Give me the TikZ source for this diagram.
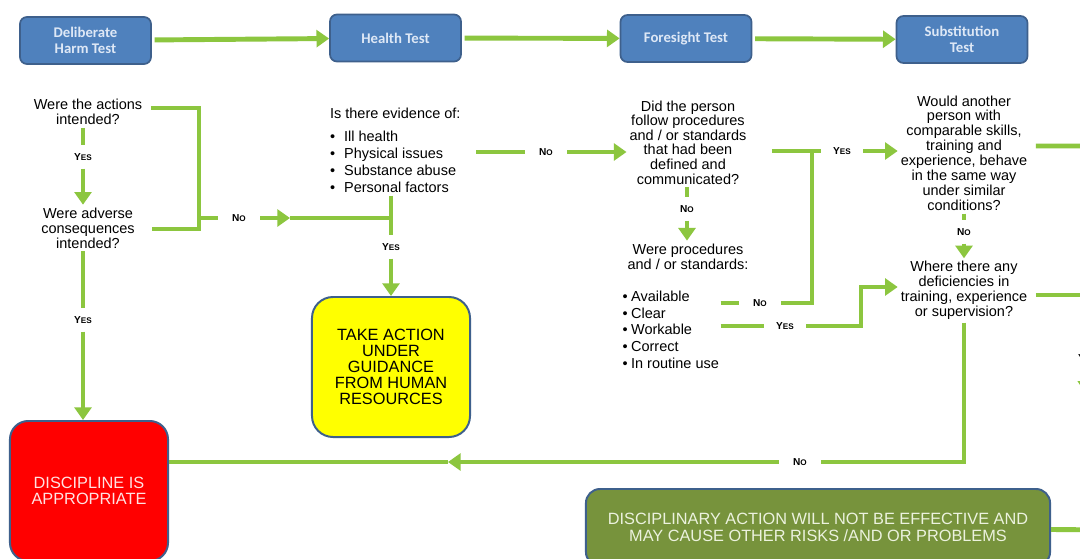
\documentclass[tikz,border=0pt]{standalone}
\usepackage{fontspec}
\setmainfont{Liberation Sans}
\newfontfamily\testfam{Carlito}
\usepackage{tikz}
\usetikzlibrary{arrows.meta, positioning, calc}

\definecolor{flowgreen}{RGB}{140,198,63}
\definecolor{testblue}{RGB}{79,129,189}
\definecolor{testtext}{RGB}{222,232,246}
\definecolor{boxedge}{RGB}{62,96,140}
\definecolor{hrred}{RGB}{255,0,0}
\definecolor{hryellow}{RGB}{255,255,0}
\definecolor{hrgreen}{RGB}{119,147,60}

\newcommand{\qfont}{\fontsize{10.3}{10.6}\selectfont}
\newcommand{\capfont}{\fontsize{11.6}{11.4}\selectfont}
\newcommand{\tyes}{{\bfseries\fontsize{7.2}{8}\selectfont Y\fontsize{5.8}{6}\selectfont ES}}
\newcommand{\tno}{{\bfseries\fontsize{7.2}{8}\selectfont N\fontsize{5.8}{6}\selectfont O}}

\tikzstyle{test} = [rectangle, draw=boxedge, line width=1.2pt, fill=testblue, rounded corners=5pt,
  minimum width=3.275cm, minimum height=1.175cm, align=center, text=testtext,
  font=\testfam\bfseries\fontsize{10.5}{11.5}\selectfont]
\tikzstyle{ask} = [align=center, font=\qfont, inner sep=2pt]
\tikzstyle{lbl} = [inner sep=0pt, minimum width=30pt, minimum height=16pt]
\tikzstyle{outcome} = [rectangle, draw=boxedge, line width=1.4pt, align=center, font=\capfont]
\tikzstyle{flow} = [draw=flowgreen, line width=3.5pt]
\tikzstyle{go} = [flow, -{Triangle[length=9pt,width=12pt]}]

\begin{document}
\begin{tikzpicture}[x=0.025cm, y=-0.025cm]
  \useasboundingbox (0,0) rectangle (1080,559);
  \fill[white] (0,0) rectangle (1080,559);
  \clip (0,0) rectangle (1080,559);

  % the four tests
  \node[test] (dh) at (85.5,40.5) {Deliberate\\Harm Test};
  \node[test] (ht) at (395.5,38) {Health Test};
  \node[test] (ft) at (686,38.5) {Foresight Test};
  \node[test] (st) at (962,39.5) {Substitution\\Test};
  \draw[go, shorten <=2pt] (dh) -- (ht);
  \draw[go, shorten <=2pt] (ht) -- (ft);
  \draw[go, shorten <=2pt] (ft) -- (st);

  % deliberate harm
  \node[ask] (q1) at (88,112) {Were the actions\\intended?};
  \node[lbl] (y1) at (83,157) {\tyes};
  \node[ask] (q2) at (88,228) {Were adverse\\consequences\\intended?};
  \node[lbl] (y3) at (83,320) {\tyes};
  \node[outcome, fill=hrred, text={rgb,255:red,255;green,226;blue,226},
    rounded corners=13pt, minimum width=3.95cm, minimum height=3.5cm] (red) at (89,491)
    {DISCIPLINE IS\\APPROPRIATE};
  \draw[flow] (y1 |- q1.south) -- (y1);
  \draw[go] (y1) -- (y1 |- q2.north);
  \draw[flow] (y3 |- q2.south) -- (y3);
  \draw[go] (y3) -- (y3 |- red.north);

  \coordinate (b1) at (199,108);
  \coordinate (b2) at (199,229);
  \node[lbl] (n1) at (239,218) {\tno};
  \coordinate (m1) at (290,218);
  \draw[flow, shorten <=4pt, shorten >=10pt] (q1.east |- b1) -- (b1) -- (b2) -- (q2.east |- b2);
  \draw[flow] (b2 |- n1) -- (n1);
  \draw[go] (n1) -- (m1);

  % health
  \node[align=left, font=\fontsize{10.3}{12.1}\selectfont, inner sep=2pt, anchor=north west] (ev) at (327,105)
    {Is there evidence of:\\[4pt]
     \makebox[10pt][l]{•}Ill health\\
     \makebox[10pt][l]{•}Physical issues\\
     \makebox[10pt][l]{•}Substance abuse\\
     \makebox[10pt][l]{•}Personal factors};
  \node[lbl] (y2) at (391,247) {\tyes};
  \node[outcome, fill=hryellow, rounded corners=15pt, minimum width=3.95cm, minimum height=3.5cm] (hr)
    at (391,367) {TAKE ACTION\\UNDER\\GUIDANCE\\FROM HUMAN\\RESOURCES};
  \draw[flow] (m1) -- (y2 |- n1);
  \draw[flow] (y2 |- ev.south) -- (y2);
  \draw[go] (y2) -- (hr);

  \node[lbl] (n2) at (546,152) {\tno};
  \draw[flow, shorten <=9pt] (ev.east |- n2) -- (n2);

  % foresight
  \node[ask, font=\fontsize{10.3}{10.4}\selectfont] (dp) at (688,142.5)
    {Did the person\\follow procedures\\and / or standards\\that had been\\defined and\\communicated?};
  \draw[go] (n2) -- (dp.west |- n2);
  \node[lbl] (n3) at (687,209) {\tno};
  \node[ask] (wp) at (688,256.5) {Were procedures\\and / or standards:};
  \draw[flow] (n3 |- dp.south) -- (n3);
  \draw[go] (n3) -- (n3 |- wp.north);
  \node[align=left, font=\fontsize{10.3}{12}\selectfont, inner sep=1pt, anchor=north west] (pl) at (621,289)
    {\makebox[6pt][l]{•}Available\\
     \makebox[6pt][l]{•}Clear\\
     \makebox[6pt][l]{•}Workable\\
     \makebox[6pt][l]{•}Correct\\
     \makebox[6pt][l]{•}In routine use};

  \coordinate (j1) at (812,151);
  \node[lbl] (y4) at (842,151) {\tyes};
  \node[lbl] (n4) at (760,303) {\tno};
  \coordinate (j2) at (812,303);
  \node[lbl] (y5) at (785,326) {\tyes};
  \coordinate (j3) at (861,326);
  \coordinate (j4) at (861,287);
  \draw[flow, shorten <=16pt] (dp.east |- y4) -- (y4);
  \draw[flow] (pl.east |- n4) -- (n4);
  \draw[flow] (n4) -- (j2) -- (j1);
  \draw[flow] (pl.east |- y5) -- (y5);

  % substitution
  \node[ask] (wa) at (964,153)
    {Would another\\person with\\comparable skills,\\training and\\experience, behave\\in the same way\\under similar\\conditions?};
  \draw[go] (y4) -- (wa.west |- y4);
  \node[lbl] (n5) at (964,232) {\tno};
  \node[ask] (wd) at (964,290.5) {Where there any\\deficiencies in\\training, experience\\or supervision?};
  \draw[flow] (wa) -- (n5);
  \draw[go] (n5) -- (wd);
  \draw[go] (y5) -- (j3) -- (j4) -- (wd.west |- j4);

  \coordinate (j5) at (964,462);
  \node[lbl] (n6) at (800,462) {\tno};
  \coordinate (m2) at (448,462);
  \draw[flow] (wd) -- (j5) -- (n6);
  \draw[go] (n6) -- (m2);
  \draw[flow] (m2) -- (red.east |- m2);

  \node[outcome, fill=hrgreen, text={rgb,255:red,236;green,242;blue,222}, rounded corners=10pt,
    font=\fontsize{11.6}{12}\selectfont, minimum width=11.6cm, minimum height=1.925cm] (gb) at (818,527.5)
    {DISCIPLINARY ACTION WILL NOT BE EFFECTIVE AND\\MAY CAUSE OTHER RISKS /AND OR PROBLEMS};

  % right edge, running off the page
  \coordinate (rc1) at (1086,146);
  \coordinate (rc2) at (1086,295);
  \node[lbl] (y6) at (1087,358) {\tyes};
  \coordinate (rc3) at (1086,394);
  \coordinate (rb) at (1110,530);
  \draw[flow, shorten <=4pt] (wa.east |- rc1) -- (rc1) -- (y6);
  \draw[flow, shorten <=4pt] (wd.east |- rc2) -- (rc2);
  \draw[go] (y6) -- (rc3);
  \draw[flow] (gb) -- (rb);
\end{tikzpicture}
\end{document}
